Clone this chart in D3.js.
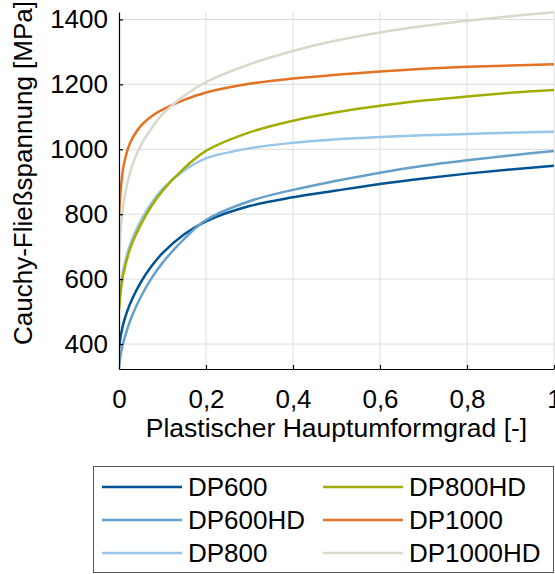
<!DOCTYPE html>
<html>
<head>
<meta charset="utf-8">
<script src="https://cdn.jsdelivr.net/npm/d3@7"></script>
<style>
  body { margin: 0; background: #fff; }
  svg text { font-family: "Liberation Sans", Arial, sans-serif; fill: #000; }
</style>
</head>
<body>
<div class="chart-wrapper"></div>
<script>
// strain values shared by all curves
const strain = [0, 0.0025, 0.005, 0.01, 0.02, 0.03, 0.05, 0.075, 0.1, 0.15, 0.2, 0.3, 0.4, 0.5, 0.6, 0.7, 0.8, 0.9, 1.0];

const dp600    = [385, 412, 432, 463, 505, 538, 590, 640, 680, 738, 778, 825, 852, 873, 893, 910, 925, 938, 949];
const dp600hd  = [328, 355, 375, 405, 450, 487, 545, 603, 650, 724, 782, 840, 875, 903, 928, 949, 966, 981, 995];
const dp800    = [520, 558, 588, 630, 683, 722, 780, 835, 878, 935, 972, 1003, 1020, 1031, 1038, 1043, 1047, 1051, 1054];
const dp800hd  = [505, 543, 573, 615, 670, 710, 768, 826, 872, 942, 995, 1052, 1088, 1114, 1134, 1150, 1163, 1174, 1183];
const dp1000   = [795, 850, 890, 945, 1000, 1032, 1072, 1102, 1122, 1152, 1175, 1202, 1218, 1230, 1240, 1248, 1254, 1258, 1262];
const dp1000hd = [650, 720, 770, 830, 900, 948, 1012, 1065, 1108, 1165, 1207, 1262, 1303, 1335, 1360, 1380, 1396, 1410, 1422];

const names  = ["DP600", "DP600HD", "DP800", "DP800HD", "DP1000", "DP1000HD"];
const colors = ["#005293", "#64a0c8", "#98c6ea", "#a2ad00", "#e37222", "#dad7cb"];
const xTicks = [0, 0.2, 0.4, 0.6, 0.8, 1];
const yTicks = [400, 600, 800, 1000, 1200, 1400];

const series = [dp600, dp600hd, dp800, dp800hd, dp1000, dp1000hd].map((vals, i) => ({
  name: names[i],
  color: colors[i],
  points: strain.map((s, j) => [s, vals[j]])
}));

let svg = d3.select(".chart-wrapper").append("svg").attr("width", 555).attr("height", 574),
    margin = {top: 12, right: 1, bottom: 205, left: 119},
    width = 555 - margin.left - margin.right,
    height = 574 - margin.top - margin.bottom;

let x = d3.scaleLinear().domain([0, 1]).range([margin.left, margin.left + width]);
let y = d3.scaleLinear().domain([323, 1423]).range([margin.top + height, margin.top]);

let fmt = d => String(d).replace(".", ",");

// grid
svg.append("g").selectAll("line")
  .data(xTicks.slice(1))
  .enter().append("line")
  .attr("x1", d => x(d)).attr("x2", d => x(d))
  .attr("y1", y.range()[0]).attr("y2", y.range()[1])
  .attr("stroke", "#dcdcdc").attr("stroke-width", 1);

svg.append("g").selectAll("line")
  .data(yTicks)
  .enter().append("line")
  .attr("x1", x.range()[0]).attr("x2", x.range()[1])
  .attr("y1", d => y(d)).attr("y2", d => y(d))
  .attr("stroke", "#dcdcdc").attr("stroke-width", 1);

// curves
let line = d3.line()
  .x(d => x(d[0]))
  .y(d => y(d[1]))
  .curve(d3.curveCatmullRom.alpha(0.5));

svg.append("clipPath").attr("id", "plot-clip")
  .append("rect")
  .attr("x", x.range()[0]).attr("y", y.range()[1] - 2)
  .attr("width", width + 1).attr("height", height + 2);

svg.append("g").attr("clip-path", "url(#plot-clip)")
  .selectAll("path")
  .data(series)
  .enter().append("path")
  .attr("d", d => line(d.points))
  .attr("fill", "none")
  .attr("stroke", d => d.color)
  .attr("stroke-width", 2.5);

// axes
let xAxis = d3.axisBottom(x).tickValues(xTicks).tickFormat(fmt).tickSizeInner(-4).tickSizeOuter(0).tickPadding(14);
let yAxis = d3.axisLeft(y).tickValues(yTicks).tickFormat(d => d).tickSizeInner(-4).tickSizeOuter(0).tickPadding(11);

let gx = svg.append("g").attr("transform", `translate(0,${y.range()[0]})`).call(xAxis);
let gy = svg.append("g").attr("transform", `translate(${x.range()[0]},0)`).call(yAxis);

[gx, gy].forEach(g => {
  g.selectAll("text").style("font-size", "26px").attr("fill", "#000");
  g.selectAll("line, path").attr("stroke", "#000").attr("stroke-width", 1.2);
});
gx.selectAll(".tick text").attr("dy", "0.95em");

svg.append("text")
  .attr("x", (x.range()[0] + x.range()[1]) / 2)
  .attr("y", 437)
  .attr("text-anchor", "middle")
  .style("font-size", "26.5px")
  .text("Plastischer Hauptumformgrad [-]");

svg.append("text")
  .attr("transform", "translate(32,173) rotate(-90)")
  .attr("text-anchor", "middle")
  .style("font-size", "26px")
  .text("Cauchy-Fließspannung [MPa]");

// legend
let legend = svg.append("g");
legend.append("rect")
  .attr("x", 93.5).attr("y", 466.5)
  .attr("width", 460).attr("height", 106)
  .attr("fill", "#fff").attr("stroke", "#555").attr("stroke-width", 1);

let item = legend.selectAll("g.item")
  .data(series)
  .enter().append("g")
  .attr("class", "item")
  .attr("transform", (d, i) => `translate(${i < 3 ? 102 : 323},${487 + (i % 3) * 33})`);

item.append("line")
  .attr("x1", 0).attr("x2", 80)
  .attr("stroke", d => d.color).attr("stroke-width", 2.5);

item.append("text")
  .attr("x", 86).attr("y", 9)
  .style("font-size", "26px")
  .text(d => d.name);
</script>
</body>
</html>
